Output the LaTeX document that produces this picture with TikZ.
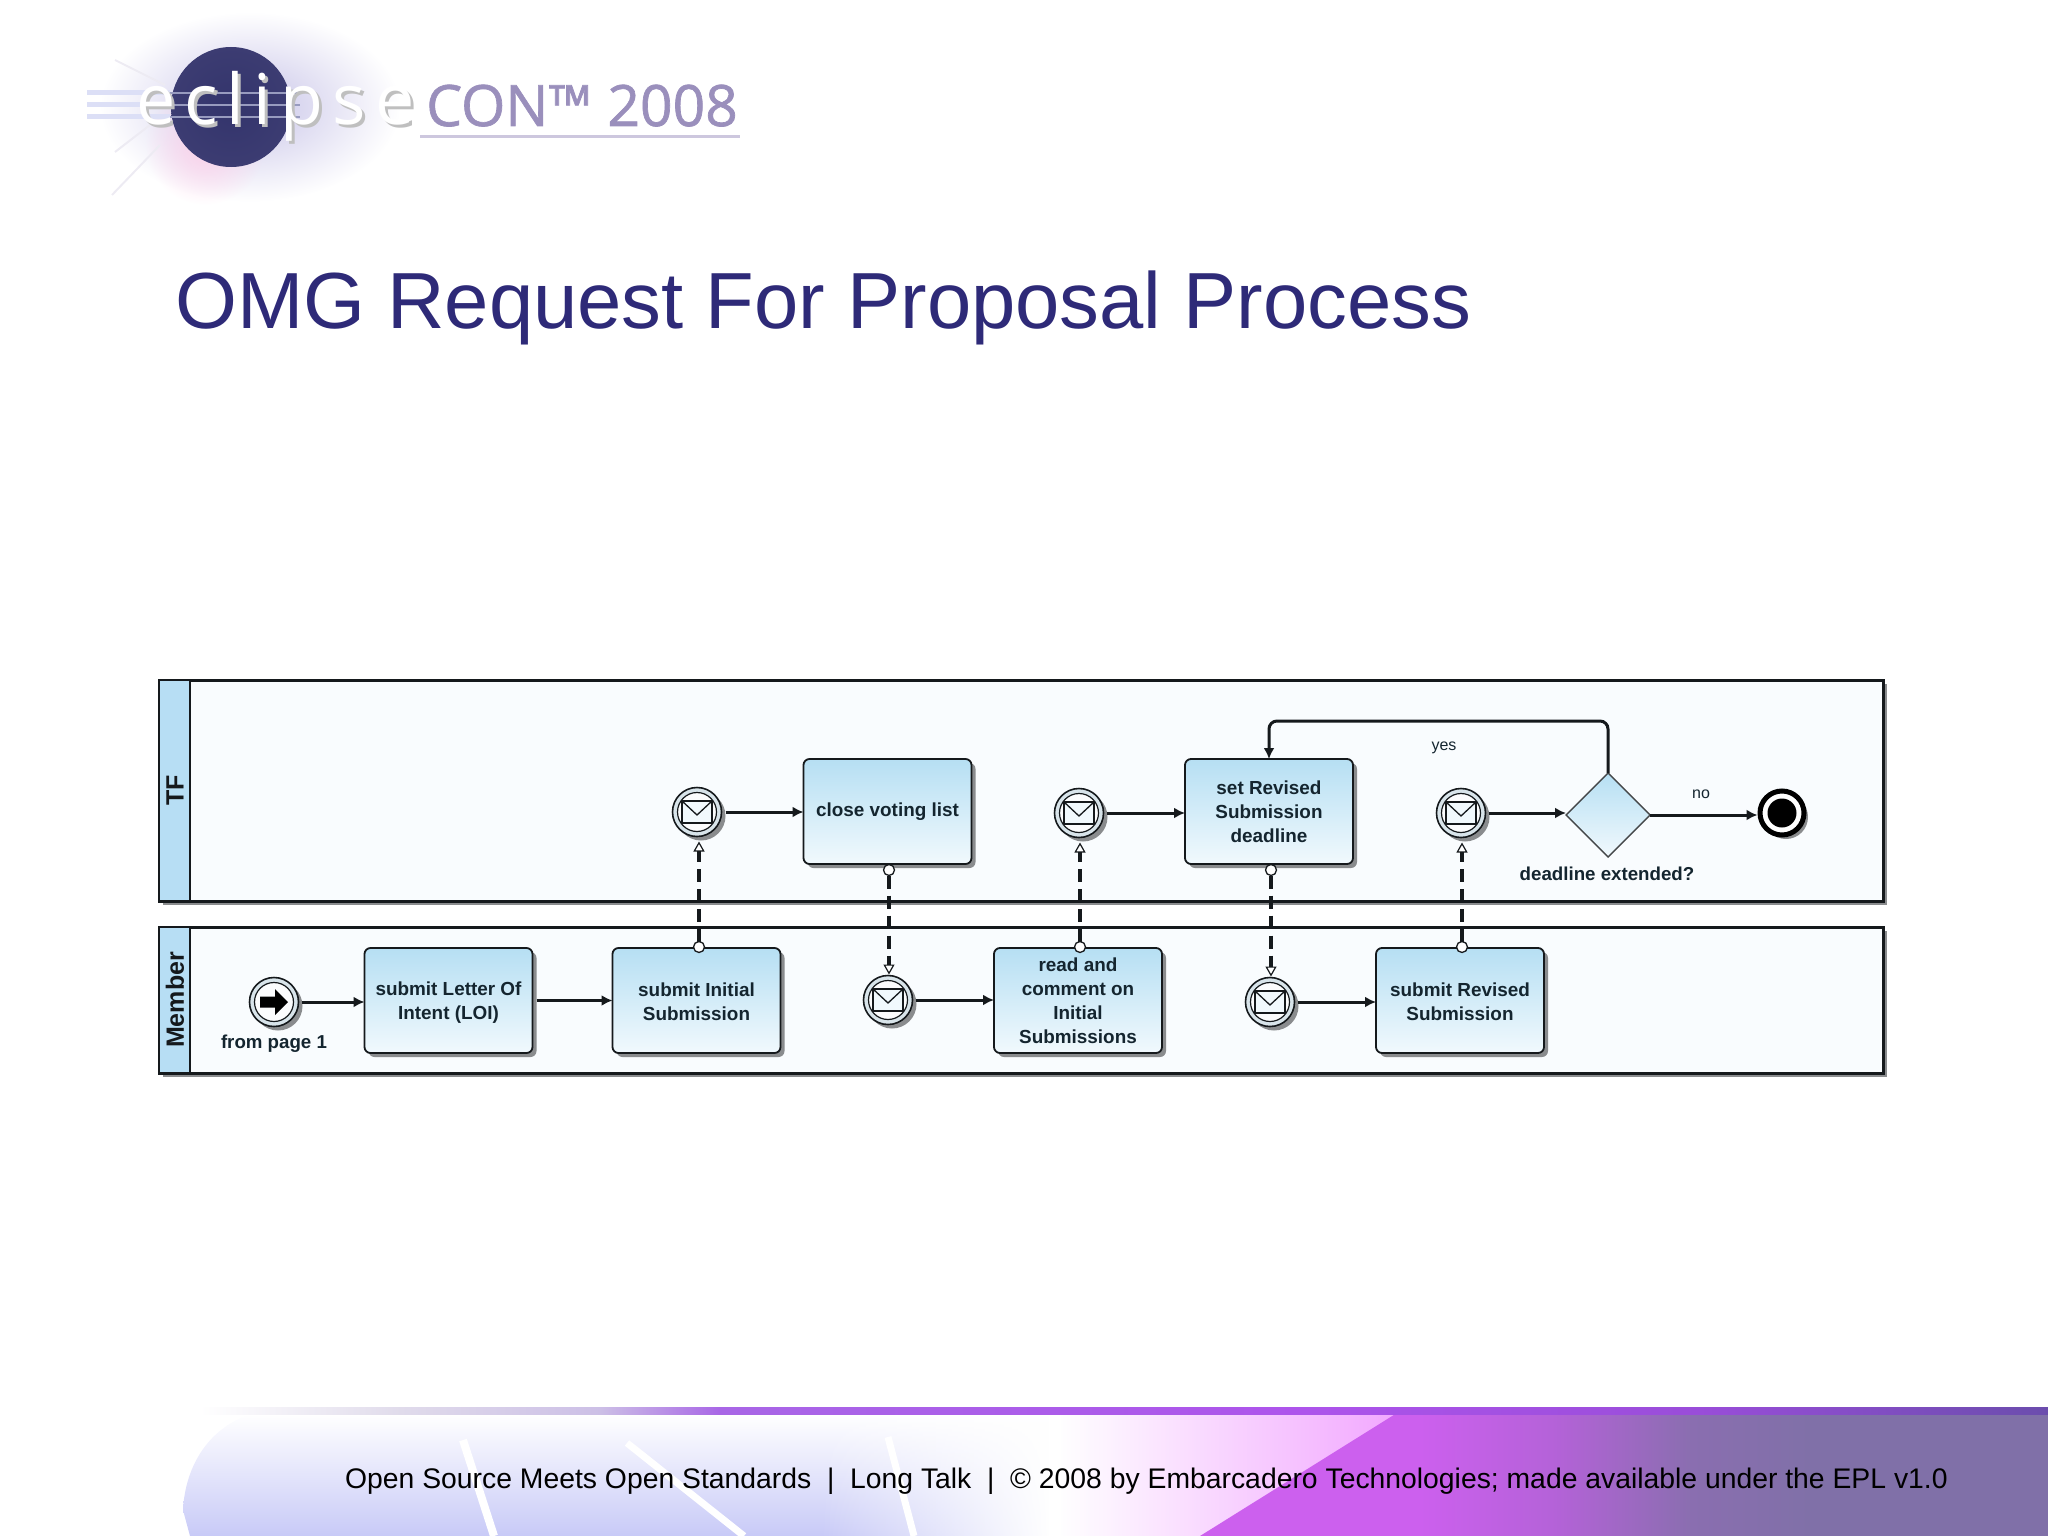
\documentclass[tikz,border=0pt]{standalone}
\usepackage{fontspec}
\setmainfont{Liberation Sans}
\newfontfamily\logofont[LetterSpace=13]{Open Sans}
\newfontfamily\conlogofont[FakeBold=1.2]{Open Sans}
\usetikzlibrary{arrows.meta,shapes.geometric,shadows,fadings,calc}
\definecolor{titleblue}{HTML}{2E2A78}
\definecolor{linedark}{HTML}{15191C}
\definecolor{hdrblue}{HTML}{B7DEF4}
\definecolor{poolfill}{HTML}{F9FCFE}
\definecolor{tasktop}{HTML}{B6DFF3}
\definecolor{taskbot}{HTML}{F1F9FD}
\definecolor{shadowc}{HTML}{8A8C8E}
\definecolor{txtdark}{HTML}{14252F}
\definecolor{ringc}{HTML}{D8E4EA}
\definecolor{logoink}{HTML}{9A8FBC}
\definecolor{logodisc}{HTML}{33346C}
\definecolor{logodiscedge}{HTML}{3C3C72}
\definecolor{logohalo}{HTML}{C8C4E8}
\definecolor{stripec}{HTML}{DCDFF6}
\definecolor{footlav}{HTML}{C8CAF7}
\definecolor{footmid}{HTML}{EDEEFD}
\definecolor{footpink}{HTML}{F2A6FF}
\definecolor{bandA}{HTML}{E0DBEB}
\definecolor{bandB}{HTML}{CCBFE6}
\definecolor{bandC}{HTML}{A866E6}
\definecolor{bandD}{HTML}{AD54EB}
\definecolor{bandE}{HTML}{994DD9}
\definecolor{bandF}{HTML}{6B4DAD}
\definecolor{magA}{HTML}{CC60EE}
\definecolor{magB}{HTML}{B462D8}
\definecolor{magC}{HTML}{8A6EB0}
\definecolor{magD}{HTML}{8070A8}
\tikzfading[name=hfade,left color=transparent!100,right color=transparent!0]
\tikzfading[name=radfade,inner color=transparent!0,outer color=transparent!100]
\newcommand{\tstrut}{\rule{0pt}{17pt}}
\tikzset{
  softshadow/.style={drop shadow={shadow xshift=4pt,shadow yshift=-4pt,opacity=1,fill=shadowc}},
  pool/.style={draw=linedark,line width=3pt,fill=poolfill,rectangle,inner sep=0pt,outer sep=0pt,softshadow},
  poolhdr/.style={draw=linedark,line width=1.4pt,fill=hdrblue,rectangle,inner sep=0pt,outer sep=0pt,minimum width=31pt},
  hdrtext/.style={font=\bfseries\fontsize{25}{25}\selectfont,text=linedark,rotate=90,inner sep=0pt},
  task/.style={rectangle,rounded corners=6pt,draw=linedark,line width=1.8pt,top color=tasktop,bottom color=taskbot,
    minimum width=168pt,minimum height=105pt,inner sep=0pt,outer sep=0pt,align=center,text=txtdark,
    font=\bfseries\fontsize{18.9}{24}\selectfont,softshadow},
  msgev/.style={circle,draw=linedark,line width=1.6pt,fill=ringc,minimum size=49pt,inner sep=0pt,outer sep=0pt,softshadow,
    path picture={
      \coordinate (pc) at (path picture bounding box.center);
      \draw[linedark,line width=1.2pt,fill=white!90!ringc] (pc) circle[radius=19.5pt];
      \draw[linedark,line width=1.3pt,fill=taskbot] ($(pc)+(-15pt,-11pt)$) rectangle ($(pc)+(15pt,11pt)$);
      \draw[linedark,line width=1.3pt] ($(pc)+(-15pt,11pt)$) -- ($(pc)+(0pt,-3pt)$) -- ($(pc)+(15pt,11pt)$);
    }},
  startev/.style={circle,draw=linedark,line width=1.6pt,fill=ringc,minimum size=49pt,inner sep=0pt,outer sep=0pt,softshadow,
    path picture={
      \coordinate (pc) at (path picture bounding box.center);
      \draw[linedark,line width=1.2pt,fill=white!90!ringc] (pc) circle[radius=19.5pt];
      \fill[black] ($(pc)+(-14pt,-5.5pt)$) -- ($(pc)+(1pt,-5.5pt)$) -- ($(pc)+(1pt,-13pt)$) -- ($(pc)+(14pt,0pt)$)
        -- ($(pc)+(1pt,13pt)$) -- ($(pc)+(1pt,5.5pt)$) -- ($(pc)+(-14pt,5.5pt)$) -- cycle;
    }},
  endev/.style={circle,draw=black,line width=5pt,fill=white,minimum size=44pt,inner sep=0pt,outer sep=2.5pt,softshadow,
    path picture={\fill[black] (path picture bounding box.center) circle[radius=14.5pt];}},
  gateway/.style={diamond,aspect=1,draw=linedark!80,line width=1.4pt,top color=tasktop,bottom color=taskbot,
    minimum width=84pt,minimum height=84pt,inner sep=0pt,outer sep=0pt},
  flow/.style={draw=linedark,line width=3pt,-{Latex[length=11pt,width=11pt]}},
  msgflow/.style={draw=linedark,line width=3.1pt,dash pattern=on 13pt off 7pt,
    -{Triangle[open,length=10pt,width=11pt,line width=1.2pt,fill=white]}},
  msgstart/.style={circle,draw=linedark,line width=1.3pt,fill=white,minimum size=11pt,inner sep=0pt,outer sep=0pt},
  flowlabel/.style={font=\fontsize{16}{18}\selectfont,text=txtdark,inner sep=0pt},
  evlabel/.style={font=\bfseries\fontsize{18.7}{22}\selectfont,text=txtdark,inner sep=0pt},
}
\begin{document}
\begin{tikzpicture}[x=1pt,y=-1pt]
\useasboundingbox (0,0) rectangle (2048,1536);
% ---------- footer background
\shade[top color=white,middle color=footmid,bottom color=footlav]
  (250,1414) .. controls (205,1430) and (185,1470) .. (183,1510) -- (190,1536) -- (1210,1536) -- (1400,1414) -- cycle;
\fill[white,path fading=hfade] (820,1414) rectangle (1050,1536);
\fill[white] (1049,1414) rectangle (1405,1536);
\fill[footpink,path fading=hfade] (1060,1414) rectangle (1405,1536);
\begin{scope}
  \clip (1397,1413) -- (2048,1413) -- (2048,1536) -- (1200,1536) -- cycle;
  \fill[magA] (1200,1413) rectangle (1421,1536);
  \shade[left color=magA,right color=magB] (1420,1413) rectangle (1556,1536);
  \shade[left color=magB,right color=magC] (1555,1413) rectangle (1691,1536);
  \shade[left color=magC,right color=magD] (1690,1413) rectangle (1811,1536);
  \fill[magD] (1810,1413) rectangle (2048,1536);
\end{scope}
\shade[left color=white,right color=bandA] (200,1407) rectangle (401,1414);
\shade[left color=bandA,right color=bandB] (400,1407) rectangle (601,1414);
\shade[left color=bandB,right color=bandC] (600,1407) rectangle (721,1414);
\shade[left color=bandC,right color=bandD] (720,1407) rectangle (1301,1414);
\shade[left color=bandD,right color=bandE] (1300,1407) rectangle (1701,1414);
\shade[left color=bandE,right color=bandF] (1700,1407) rectangle (2048,1414);
\draw[white,line width=8pt] (463,1440) -- (494,1536);
\draw[white,line width=7pt] (627,1443) -- (744,1536);
\draw[white,line width=7pt] (888,1437) -- (914,1536);
% ---------- logo
\fill[logohalo,path fading=radfade] (250,107) ellipse[x radius=150,y radius=95];
\fill[magenta!18!white,path fading=radfade] (205,145) circle[radius=60];
\draw[logoink!18!white,line width=2pt] (160,145) -- (112,195);
\draw[logoink!18!white,line width=2pt] (150,125) -- (115,152);
\draw[logoink!18!white,line width=2pt] (165,85) -- (115,60);
\shade[inner color=logodisc,outer color=logodiscedge] (231,107) circle[radius=60];
\foreach \sy in {93,105,117}{
  \draw[stripec,line width=5pt] (87,\sy) -- (170,\sy);
  \draw[stripec!60!logodisc,line width=2pt] (170,\sy) -- (300,\sy);
}
\node[anchor=base west,inner sep=0pt,text=gray!50!white,font=\logofont\fontsize{70}{70}\selectfont] (logoshadow) at (139,128) {eclipse};
\node[anchor=base west,inner sep=0pt,text=white,font=\logofont\fontsize{70}{70}\selectfont] (logoeclipse) at (136,125) {eclipse};
\node[anchor=base west,inner sep=0pt,text=logoink,font=\conlogofont\fontsize{57}{57}\selectfont] (logocon) at (426,126) {CON\raisebox{0pt}{™} 2008};
\draw[logoink!50!white,line width=3pt] (420,137) -- (740,137);
% ---------- title
\node[anchor=base west,inner sep=0pt,text=titleblue,font=\fontsize{79.6}{80}\selectfont] (title) at (175,328) {OMG Request For Proposal Process};
% ---------- pools
\node[pool,minimum width=1724pt,minimum height=221pt] (tfpool) at (1021,790.5) {};
\node[poolhdr,minimum height=221pt] (tfhdr) at (174.5,790.5) {};
\node[hdrtext] (tflabel) at (175,790.5) {TF};
\node[pool,minimum width=1724pt,minimum height=146pt] (mempool) at (1021,1000) {};
\node[poolhdr,minimum height=146pt] (memhdr) at (174.5,1000) {};
\node[hdrtext] (memlabel) at (175,1000) {Member};
% ---------- nodes
\node[task] (loi) at (448.5,1000.5) {\tstrut submit Letter Of\\Intent (LOI)};
\node[task] (init) at (696.5,1000.5) {\tstrut submit Initial\\Submission};
\node[task] (close) at (887.5,811.5) {close voting list};
\node[task] (read) at (1078,1000.5) {read and\\comment on\\Initial\\Submissions};
\node[task] (setrev) at (1269,811.5) {set Revised\\Submission\\deadline};
\node[task] (subrev) at (1460,1000.5) {\tstrut submit Revised\\Submission};
\node[startev] (start) at (274,1002) {};
\node[msgev] (ev1) at (697,812) {};
\node[msgev] (ev2) at (888,1000) {};
\node[msgev] (ev3) at (1079,813) {};
\node[msgev] (ev4) at (1270,1002) {};
\node[msgev] (ev5) at (1461,813) {};
\node[gateway] (gate) at (1608,815) {};
\node[endev] (finish) at (1782,813) {};
\node[msgstart] (ms1) at (699,947) {};
\node[msgstart] (ms2) at (889,870) {};
\node[msgstart] (ms3) at (1080,947) {};
\node[msgstart] (ms4) at (1271,870) {};
\node[msgstart] (ms5) at (1462,947) {};
% ---------- labels
\node[evlabel] (fromlbl) at (274,1044) {from page 1};
\node[evlabel] (gatelbl) at (1607,874) {deadline extended?};
\node[flowlabel] (yeslbl) at (1444,748) {yes};
\node[flowlabel] (nolbl) at (1701,794) {no};
% ---------- sequence flows
\draw[flow,shorten <=3pt] (start.east) -- (loi.west |- start.east);
\draw[flow,shorten <=4pt] (loi.east) -- (init.west);
\draw[flow,shorten <=4pt] (ev1.east) -- (close.west |- ev1.east);
\draw[flow,shorten <=3pt] (ev2.east) -- (read.west |- ev2.east);
\draw[flow,shorten <=3pt] (ev3.east) -- (setrev.west |- ev3.east);
\draw[flow,shorten <=3pt] (ev4.east) -- (subrev.west |- ev4.east);
\draw[flow,shorten <=3pt] (ev5.east) -- (gate.west |- ev5.east);
\draw[flow] (gate.east) -- (finish.west |- gate.east);
\coordinate (loopc) at (1440,721);
\draw[flow,rounded corners=8pt] (gate.north) |- (loopc) -| (setrev.north);
% ---------- message flows
\draw[msgflow,shorten >=5pt] (ms1.north) -- (ev1.south -| ms1.north);
\draw[msgflow,shorten >=1pt] (ms2.south) -- (ev2.north -| ms2.south);
\draw[msgflow,shorten >=5pt] (ms3.north) -- (ev3.south -| ms3.north);
\draw[msgflow,shorten >=1pt] (ms4.south) -- (ev4.north -| ms4.south);
\draw[msgflow,shorten >=5pt] (ms5.north) -- (ev5.south -| ms5.north);
% ---------- footer text
\node[anchor=base west,inner sep=0pt,text=black,font=\fontsize{28.33}{29}\selectfont] (footer) at (345,1488)
  {Open Source Meets Open Standards\ \ |\ \ Long Talk\ \ |\ \ © 2008 by Embarcadero Technologies; made available under the EPL v1.0};
\end{tikzpicture}
\end{document}
